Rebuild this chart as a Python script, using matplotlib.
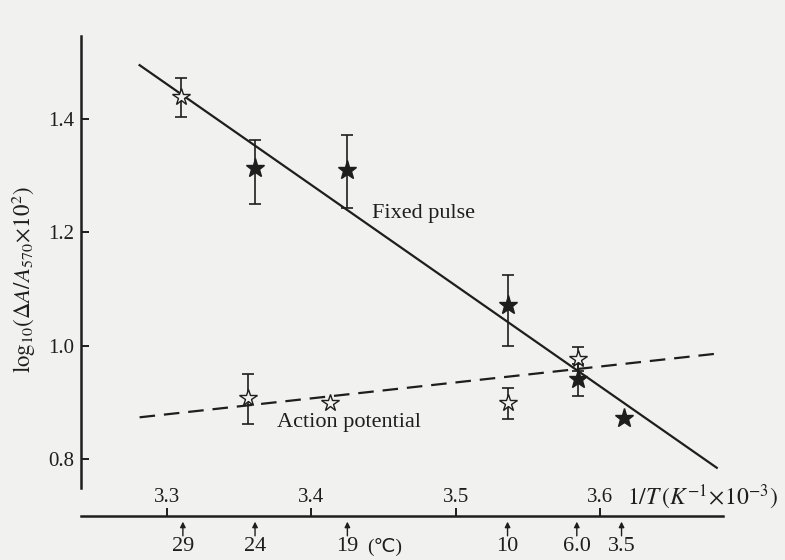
import numpy as np
import matplotlib
matplotlib.use("Agg")
import matplotlib.pyplot as plt

# data
# fixed pulse points (x = 1/T x 10^3)
fp_x = [3.310, 3.361, 3.425, 3.536, 3.585, 3.617]
fp_y = [1.439, 1.314, 1.310, 1.072, 0.941, 0.872]
fp_hi = [1.472, 1.363, 1.372, 1.125, 0.968, np.nan]
fp_lo = [1.404, 1.250, 1.243, 1.000, 0.911, np.nan]
fp_open = [True, False, False, False, False, False]

# action potential points
ap_x = [3.356, 3.413, 3.536, 3.585]
ap_y = [0.908, 0.899, 0.899, 0.977]
ap_hi = [0.950, np.nan, 0.926, 0.998]
ap_lo = [0.862, np.nan, 0.871, 0.956]

# fitted lines (end points)
fp_line_x = [3.281, 3.681]
fp_line_y = [1.495, 0.785]
ap_line_x = [3.281, 3.680]
ap_line_y = [0.874, 0.986]

# axis ticks
inv_t_ticks = [3.3, 3.4, 3.5, 3.6]
inv_t_labels = ["3.3", "3.4", "3.5", "3.6"]
y_ticks = [0.8, 1.0, 1.2, 1.4]
y_labels = ["0.8", "1.0", "1.2", "1.4"]

# temperature markers below the axis
temp_x = [3.311, 3.361, 3.425, 3.536, 3.584, 3.615]
temp_labels = ["29", "24", "19", "10", "6.0", "3.5"]

ink = "#1e1e1e"
paper = "#f1f1f0"
plt.rcParams["font.family"] = ["Liberation Serif", "DejaVu Sans"]
plt.rcParams["mathtext.fontset"] = "stix"

fig = plt.figure(figsize=(7.85, 5.6), dpi=100, facecolor=paper)
ax = fig.add_axes([0.1032, 0.0786, 0.8178, 0.8571])
ax.set_facecolor(paper)
ax.set_xlim(3.2404, 3.6853)
ax.set_ylim(0.70, 1.5464)

for s in ["top", "right"]:
    ax.spines[s].set_visible(False)
ax.spines["left"].set_bounds(0.749, 1.5464)
ax.spines["left"].set_linewidth(1.8)
ax.spines["bottom"].set_linewidth(1.8)
ax.spines["left"].set_color(ink)
ax.spines["bottom"].set_color(ink)

ax.set_yticks(y_ticks)
ax.set_yticklabels(y_labels, fontsize=15, color=ink)
ax.set_xticks(inv_t_ticks)
ax.set_xticklabels([])
ax.tick_params(axis="both", direction="in", length=6, width=1.4, color=ink)
ax.tick_params(axis="y", pad=5)

# x tick labels sit above the axis line
for xv, lab in zip(inv_t_ticks, inv_t_labels):
    ax.text(xv, 0.733, lab, ha="center", va="center", fontsize=15, color=ink)

ax.text(3.619, 0.733, r"$1/T\,(K^{-1}\!\times\!10^{-3})$", ha="left", va="center",
        fontsize=17, color=ink, clip_on=False)

# fitted lines
ax.plot(fp_line_x, fp_line_y, color=ink, lw=1.6)
ax.plot(ap_line_x, ap_line_y, color=ink, lw=1.6, dashes=(7, 4))

# error bars
def draw_err(xs, ys, lo, hi):
    for xv, yv, l, h in zip(xs, ys, lo, hi):
        if np.isnan(l):
            continue
        ax.errorbar([xv], [yv], yerr=[[yv - l], [h - yv]], fmt="none",
                    ecolor=ink, elinewidth=1.2, capsize=4, capthick=1.2, zorder=3)

draw_err(fp_x, fp_y, fp_lo, fp_hi)
draw_err(ap_x, ap_y, ap_lo, ap_hi)

# star markers
for xv, yv, op in zip(fp_x, fp_y, fp_open):
    ax.plot(xv, yv, marker="*", ms=14 if not op else 13, mfc=paper if op else ink,
            mec=ink, mew=1.0, ls="none", zorder=4)
ax.plot(ap_x, ap_y, marker="*", ms=13, mfc=paper, mec=ink, mew=1.0,
        ls="none", zorder=4)

ax.text(3.442, 1.234, "Fixed pulse", fontsize=16, color=ink, va="center", ha="left")
ax.text(3.376, 0.864, "Action potential", fontsize=16, color=ink, va="center", ha="left")

# temperature arrows and labels below the axis
for xv, lab in zip(temp_x, temp_labels):
    ax.annotate("", xy=(xv, 0.690), xytext=(xv, 0.665), annotation_clip=False,
                arrowprops=dict(arrowstyle="-|>", lw=1.0, color=ink, mutation_scale=8,
                                shrinkA=0, shrinkB=0))
    ax.text(xv, 0.647, lab, ha="center", va="center", fontsize=16, color=ink, clip_on=False)
ax.text(3.451, 0.645, "(℃)", ha="center", va="center", fontsize=14, color=ink, clip_on=False)

fig.text(0.030, 0.50, r"$\mathrm{log}_{10}(\mathit{\Delta}A/A_{570}\!\times\!10^{2})$",
         rotation=90, ha="center", va="center", fontsize=16.5, color=ink)

fig.savefig("out.png", dpi=100, facecolor=paper)
